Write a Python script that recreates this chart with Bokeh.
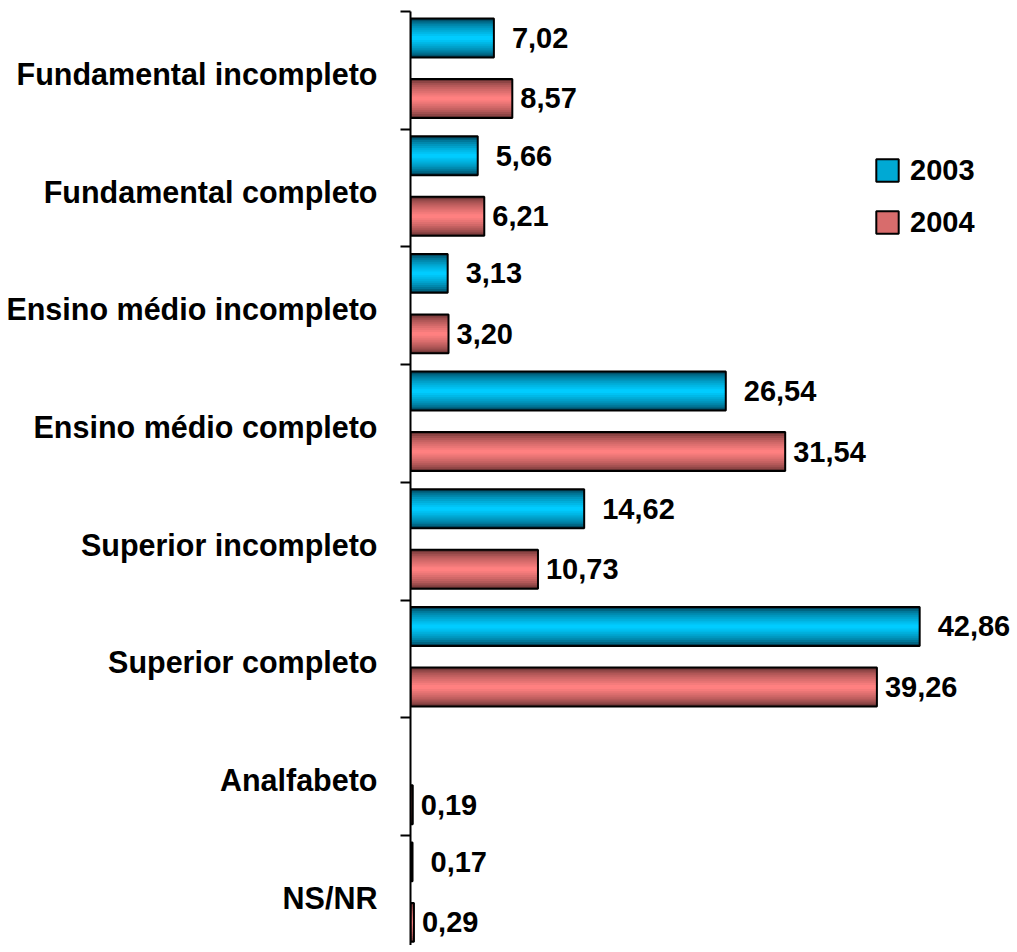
import math
from bokeh.plotting import figure
from bokeh.models import (ColumnDataSource, Range1d, FixedTicker, Legend, LegendItem)
from bokeh.core.properties import value
from bokeh.embed import file_html
from bokeh.resources import INLINE

# ---- data ----
categories = ["Fundamental incompleto", "Fundamental completo", "Ensino médio incompleto",
              "Ensino médio completo", "Superior incompleto", "Superior completo",
              "Analfabeto", "NS/NR"]
series_names = ["2003", "2004"]
values_2003 = [7.02, 5.66, 3.13, 26.54, 14.62, 42.86, float("nan"), 0.17]
values_2004 = [8.57, 6.21, 3.20, 31.54, 10.73, 39.26, 0.19, 0.29]

# ---- style / layout ----
W, H = 1012, 945
border_left, border_top = 410, 11
frame_w = W - border_left
frame_h = H - border_top
px_per_unit = 11.88
group_px = 117.7
n = len(categories)

off_2003, off_2004 = 0.225, 0.739
bar_h = 0.331
label_off = 0.53

def fmt(v):
    return "" if math.isnan(v) else f"{v:.2f}".replace(".", ",")

def group_top(i):
    return n - i

y2003 = [group_top(i) - off_2003 for i in range(n)]
y2004 = [group_top(i) - off_2004 for i in range(n)]

src03 = ColumnDataSource(dict(y=y2003, v=values_2003, lab=[fmt(v) for v in values_2003]))
src04 = ColumnDataSource(dict(y=y2004, v=values_2004, lab=[fmt(v) for v in values_2004]))

p = figure(width=W, height=H, output_backend="svg", toolbar_location=None,
           x_range=Range1d(0, frame_w / px_per_unit),
           y_range=Range1d(n - frame_h / group_px, n),
           min_border_left=border_left, min_border_top=border_top,
           min_border_right=0, min_border_bottom=0)
p.outline_line_color = None
p.xgrid.visible = False
p.ygrid.visible = False
p.xaxis.visible = False
p.background_fill_color = "white"
p.border_fill_color = "white"

def hexrgb(h):
    h = h.lstrip("#")
    return tuple(int(h[i:i + 2], 16) for i in (0, 2, 4))

def lerp(c1, c2, t):
    a, b = hexrgb(c1), hexrgb(c2)
    return "#%02x%02x%02x" % tuple(int(round(a[j] + (b[j] - a[j]) * t)) for j in range(3))

palettes = {"2003": ("#003f55", "#00ccff"), "2004": ("#633030", "#ff8080")}
steps = 10
top_renderers = {}
for name, src in (("2003", src03), ("2004", src04)):
    dark, bright = palettes[name]
    for k in range(steps):
        frac = 1 - k / steps
        t = (k / (steps - 1)) ** 0.6
        p.hbar(y="y", right="v", left=0, height=bar_h * frac, source=src,
               fill_color=lerp(dark, bright, t), line_color=None)
    p.hbar(y="y", right="v", left=0, height=bar_h, source=src,
           fill_color=None, line_color="black", line_width=2)
    top_renderers[name] = p.rect(x=[float("nan")], y=[float("nan")], width=1, height=1,
                                 fill_color=lerp(dark, bright, 0.75), line_color="black",
                                 line_width=2)

# value labels
for src, xoff in ((src03, 18), (src04, 8)):
    p.text(x="v", y="y", text="lab", source=src, x_offset=xoff,
           text_baseline="middle", text_align="left",
           text_font=value("Liberation Sans"), text_font_style="bold",
           text_font_size="29px", text_color="black")

# y axis: labels at centers, tick marks at boundaries
label_pos = [group_top(i) - label_off for i in range(n)]
bounds = [group_top(i) for i in range(n + 1)]
ax = p.yaxis[0]
ax.ticker = FixedTicker(ticks=label_pos, minor_ticks=bounds)
ax.major_label_overrides = {pos: c for pos, c in zip(label_pos, categories)}
ax.major_tick_out = 0
ax.major_tick_in = 0
ax.minor_tick_out = 10
ax.minor_tick_in = 0
ax.minor_tick_line_width = 2
ax.minor_tick_line_color = "black"
ax.axis_line_width = 2
ax.axis_line_color = "black"
ax.major_label_standoff = 23
ax.major_label_text_font = "Liberation Sans"
ax.major_label_text_font_style = "bold"
ax.major_label_text_font_size = "30.5px"
ax.major_label_text_color = "black"

legend = Legend(items=[LegendItem(label=nm, renderers=[top_renderers[nm]]) for nm in series_names],
                location=(463, 703), orientation="vertical",
                glyph_width=28, glyph_height=28, label_height=40, spacing=12,
                label_standoff=9, padding=0, margin=0,
                label_text_font="Liberation Sans", label_text_font_style="bold",
                label_text_font_size="29px", label_text_color="black",
                border_line_alpha=0, background_fill_alpha=0)
p.add_layout(legend, "center")

open("out.html", "w").write(file_html(p, INLINE))
